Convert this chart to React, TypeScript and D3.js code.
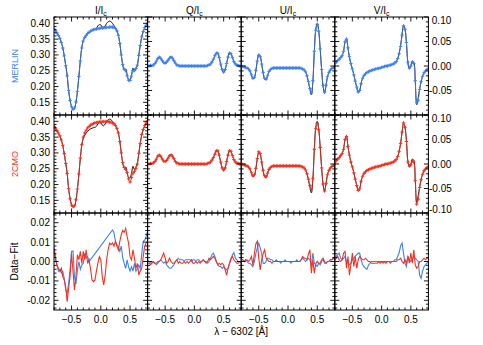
import React from 'react';
import * as d3 from 'd3';

// ---------------- data ----------------
const LAMBDA = [
  -0.800,-0.775,-0.750,-0.725,-0.700,-0.675,-0.650,-0.625,-0.600,-0.575,
  -0.550,-0.525,-0.500,-0.475,-0.450,-0.425,-0.400,-0.375,-0.350,-0.325,
  -0.300,-0.275,-0.250,-0.225,-0.200,-0.175,-0.150,-0.125,-0.100,-0.075,
  -0.050,-0.025,0.000,0.025,0.050,0.075,0.100,0.125,0.150,0.175,
  0.200,0.225,0.250,0.275,0.300,0.325,0.350,0.375,0.400,0.425,
  0.450,0.475,0.500,0.525,0.550,0.575,0.600,0.625,0.650,0.675,
  0.700,0.725,0.750,0.775,0.800];

const I_OBS = [
  0.381,0.376,0.369,0.362,0.353,0.340,0.323,0.297,0.268,0.236,
  0.186,0.156,0.137,0.129,0.131,0.150,0.184,0.231,0.282,0.324,
  0.345,0.356,0.363,0.368,0.373,0.376,0.378,0.380,0.381,0.384,
  0.392,0.396,0.395,0.388,0.386,0.392,0.400,0.405,0.407,0.405,
  0.400,0.393,0.386,0.377,0.363,0.337,0.300,0.268,0.252,0.256,
  0.238,0.222,0.221,0.236,0.258,0.247,0.256,0.268,0.300,0.331,
  0.358,0.374,0.385,0.394,0.402];
const I_MERLIN = [
  0.382,0.377,0.370,0.362,0.353,0.339,0.322,0.297,0.266,0.234,
  0.188,0.156,0.136,0.128,0.132,0.151,0.185,0.232,0.281,0.322,
  0.344,0.355,0.362,0.368,0.372,0.375,0.378,0.380,0.381,0.382,
  0.383,0.384,0.385,0.385,0.386,0.386,0.387,0.387,0.388,0.388,
  0.388,0.387,0.384,0.376,0.362,0.336,0.300,0.270,0.255,0.250,
  0.234,0.220,0.219,0.233,0.250,0.251,0.257,0.268,0.298,0.330,
  0.357,0.374,0.386,0.394,0.401];
const I_2CMO = [
  0.384,0.378,0.371,0.363,0.354,0.341,0.324,0.298,0.267,0.235,
  0.187,0.155,0.135,0.130,0.133,0.152,0.186,0.233,0.284,0.326,
  0.350,0.363,0.372,0.379,0.384,0.388,0.391,0.393,0.395,0.396,
  0.397,0.398,0.398,0.399,0.399,0.399,0.399,0.399,0.398,0.397,
  0.395,0.392,0.387,0.378,0.363,0.336,0.300,0.270,0.254,0.248,
  0.238,0.218,0.208,0.222,0.236,0.242,0.250,0.265,0.299,0.330,
  0.358,0.374,0.386,0.395,0.402];

const Q_OBS = [
  0.000,0.000,0.001,0.001,0.002,0.005,0.010,0.016,0.019,0.016,
  0.010,0.006,0.005,0.007,0.012,0.017,0.019,0.017,0.011,0.005,
  0.002,0.001,0.000,0.000,0.000,0.000,0.000,0.000,0.000,0.000,
  0.000,0.000,0.000,0.000,0.000,0.000,0.000,0.000,0.000,0.000,
  0.000,0.001,0.002,0.004,0.008,0.013,0.021,0.027,0.027,0.017,
  0.003,-0.009,-0.014,-0.008,0.005,0.019,0.028,0.026,0.017,0.009,
  0.004,0.002,0.001,0.000,0.000];
const Q_MERLIN = [
  0.000,0.000,0.001,0.001,0.002,0.005,0.010,0.015,0.018,0.016,
  0.011,0.007,0.006,0.008,0.012,0.016,0.018,0.016,0.011,0.006,
  0.002,0.001,0.000,0.000,0.000,0.000,0.000,0.000,0.000,0.000,
  0.000,0.000,0.000,0.000,0.000,0.000,0.000,0.000,0.000,0.000,
  0.000,0.001,0.002,0.004,0.008,0.014,0.021,0.026,0.026,0.017,
  0.004,-0.007,-0.012,-0.007,0.005,0.018,0.026,0.025,0.017,0.009,
  0.004,0.002,0.001,0.000,0.000];
const Q_2CMO = [
  0.000,0.000,0.001,0.001,0.002,0.005,0.010,0.016,0.018,0.016,
  0.010,0.006,0.005,0.007,0.012,0.017,0.018,0.016,0.011,0.005,
  0.002,0.001,0.000,0.000,0.000,0.000,0.000,0.000,0.000,0.000,
  0.000,0.000,0.000,0.000,0.000,0.000,0.000,0.000,0.000,0.000,
  0.000,0.001,0.002,0.004,0.008,0.013,0.020,0.027,0.027,0.018,
  0.004,-0.008,-0.012,-0.008,0.005,0.018,0.027,0.026,0.017,0.009,
  0.004,0.002,0.001,0.000,0.000];

const U_OBS = [
  0.000,-0.001,-0.002,-0.003,-0.004,-0.006,-0.010,-0.018,-0.026,-0.024,
  -0.010,0.010,0.024,0.020,0.004,-0.014,-0.026,-0.028,-0.020,-0.011,
  -0.007,-0.005,-0.004,-0.004,-0.004,-0.004,-0.004,-0.004,-0.004,-0.004,
  -0.004,-0.004,-0.004,-0.004,-0.004,-0.004,-0.004,-0.004,-0.004,-0.004,
  -0.004,-0.005,-0.006,-0.008,-0.012,-0.020,-0.033,-0.048,-0.059,-0.032,
  0.030,0.075,0.087,0.072,0.035,-0.008,-0.042,-0.056,-0.040,-0.022,
  -0.013,-0.008,-0.005,-0.003,-0.001];
const U_MERLIN = [
  0.000,-0.001,-0.002,-0.003,-0.004,-0.006,-0.010,-0.018,-0.025,-0.023,
  -0.009,0.010,0.022,0.019,0.004,-0.013,-0.025,-0.027,-0.020,-0.011,
  -0.007,-0.005,-0.004,-0.004,-0.004,-0.004,-0.004,-0.004,-0.004,-0.004,
  -0.004,-0.004,-0.004,-0.004,-0.004,-0.004,-0.004,-0.004,-0.004,-0.004,
  -0.004,-0.005,-0.006,-0.008,-0.012,-0.020,-0.032,-0.046,-0.055,-0.030,
  0.030,0.073,0.085,0.071,0.035,-0.007,-0.040,-0.053,-0.039,-0.022,
  -0.013,-0.008,-0.005,-0.003,-0.001];
const U_2CMO = [
  0.000,-0.001,-0.002,-0.003,-0.004,-0.006,-0.010,-0.018,-0.024,-0.022,
  -0.009,0.011,0.025,0.021,0.004,-0.013,-0.024,-0.026,-0.019,-0.011,
  -0.007,-0.005,-0.004,-0.004,-0.004,-0.004,-0.004,-0.004,-0.004,-0.004,
  -0.004,-0.004,-0.004,-0.004,-0.004,-0.004,-0.004,-0.004,-0.004,-0.004,
  -0.004,-0.005,-0.006,-0.008,-0.012,-0.020,-0.031,-0.044,-0.052,-0.029,
  0.030,0.072,0.083,0.070,0.034,-0.008,-0.041,-0.055,-0.040,-0.022,
  -0.013,-0.008,-0.005,-0.003,-0.001];

const V_OBS = [
  0.005,0.008,0.011,0.014,0.017,0.021,0.030,0.050,0.056,0.036,
  0.018,0.004,-0.006,-0.018,-0.031,-0.044,-0.054,-0.050,-0.035,-0.025,
  -0.019,-0.016,-0.013,-0.012,-0.010,-0.009,-0.008,-0.007,-0.006,-0.005,
  -0.005,-0.004,-0.003,-0.002,-0.001,0.000,0.000,0.001,0.002,0.003,
  0.004,0.006,0.009,0.015,0.026,0.042,0.065,0.083,0.075,0.047,
  0.005,-0.006,0.000,0.010,0.008,-0.030,-0.079,-0.065,-0.047,-0.032,
  -0.021,-0.014,-0.010,-0.007,-0.005];
const V_MERLIN = [
  0.005,0.008,0.011,0.014,0.017,0.021,0.030,0.049,0.055,0.037,
  0.019,0.005,-0.006,-0.018,-0.031,-0.043,-0.053,-0.050,-0.036,-0.025,
  -0.019,-0.016,-0.013,-0.012,-0.010,-0.009,-0.008,-0.007,-0.006,-0.005,
  -0.005,-0.004,-0.003,-0.002,-0.001,0.000,0.000,0.001,0.002,0.003,
  0.004,0.006,0.009,0.015,0.025,0.040,0.063,0.082,0.075,0.048,
  0.008,-0.004,0.000,0.008,0.005,-0.030,-0.075,-0.070,-0.048,-0.032,
  -0.021,-0.014,-0.010,-0.007,-0.005];
const V_2CMO = [
  0.004,0.007,0.010,0.013,0.017,0.021,0.030,0.050,0.056,0.036,
  0.018,0.004,-0.006,-0.018,-0.031,-0.044,-0.054,-0.051,-0.035,-0.025,
  -0.019,-0.016,-0.013,-0.012,-0.010,-0.009,-0.008,-0.007,-0.006,-0.005,
  -0.005,-0.004,-0.003,-0.002,-0.001,0.000,0.000,0.001,0.002,0.003,
  0.004,0.006,0.009,0.015,0.026,0.042,0.065,0.084,0.075,0.046,
  0.004,-0.004,-0.002,0.006,0.004,-0.034,-0.082,-0.072,-0.048,-0.032,
  -0.021,-0.014,-0.010,-0.007,-0.005];

// Data - Fit residuals (null = not fitted)
const RES_I_MERLIN = [
  0.0077,0.0025,-0.0018,-0.0050,-0.0040,-0.0060,-0.0050,-0.0087,-0.0147,-0.0164,
  -0.0112,-0.0040,0.0052,0.0054,-0.0078,-0.0116,-0.0044,0.0000,-0.0040,-0.0018,
  -0.0010,0.0041,0.0018,0.0025,0.0000,0.0010,null,null,null,null,
  null,null,null,null,null,null,null,null,null,null,
  0.0163,0.0150,0.0104,0.0087,0.0076,0.0052,0.0079,0.0018,-0.0010,-0.0035,
  0.0009,-0.0027,-0.0050,-0.0027,-0.0050,-0.0010,-0.0050,-0.0035,-0.0018,-0.0035,
  0.0041,0.0104,0.0110,0.0128,0.0155];
const RES_I_2CMO = [
  0.0060,0.0009,-0.0018,-0.0035,-0.0050,-0.0035,-0.0078,-0.0095,-0.0130,-0.0207,
  -0.0138,-0.0078,0.0041,-0.0050,-0.0147,-0.0078,0.0035,0.0009,0.0052,-0.0010,
  0.0052,0.0009,0.0060,-0.0010,0.0009,-0.0040,-0.0095,-0.0104,-0.0095,-0.0050,
  -0.0010,0.0025,0.0009,-0.0078,-0.0121,-0.0069,0.0009,0.0060,0.0095,0.0087,
  0.0095,0.0079,0.0104,0.0079,0.0060,0.0104,0.0139,0.0160,0.0150,0.0170,
  0.0128,0.0095,0.0025,0.0009,0.0060,0.0018,-0.0035,-0.0010,-0.0069,-0.0050,
  -0.0035,0.0025,0.0079,0.0095,0.0104];
const RES_Q_MERLIN = [
  0.0009,0.0000,-0.0009,0.0000,-0.0005,-0.0009,-0.0017,-0.0009,0.0000,0.0009,
  0.0000,-0.0009,0.0000,-0.0017,-0.0026,-0.0035,-0.0035,-0.0026,-0.0017,0.0000,
  0.0009,0.0017,0.0009,0.0009,0.0009,0.0000,0.0009,0.0009,0.0009,0.0009,
  0.0000,0.0009,0.0009,0.0000,0.0009,0.0009,0.0000,0.0000,0.0009,0.0000,
  0.0000,-0.0009,0.0000,0.0017,0.0035,0.0043,0.0026,0.0000,-0.0017,-0.0026,
  -0.0026,-0.0035,-0.0026,-0.0035,-0.0043,-0.0035,-0.0010,0.0009,0.0035,0.0046,
  0.0017,0.0009,0.0000,0.0000,-0.0009];
const RES_Q_2CMO = [
  -0.0009,-0.0009,-0.0017,-0.0009,0.0000,-0.0009,-0.0009,0.0000,0.0000,0.0009,
  0.0026,0.0043,0.0017,-0.0009,0.0000,0.0017,0.0000,-0.0009,-0.0009,0.0000,
  0.0009,-0.0009,0.0000,-0.0009,-0.0009,0.0000,-0.0009,0.0000,-0.0009,0.0000,
  0.0009,-0.0009,-0.0009,0.0000,-0.0009,0.0000,-0.0009,0.0000,0.0009,0.0000,
  -0.0009,0.0000,0.0017,0.0009,0.0017,0.0026,0.0017,0.0000,-0.0017,-0.0009,
  -0.0017,-0.0009,-0.0017,-0.0043,-0.0070,-0.0035,-0.0009,0.0017,0.0026,0.0009,
  0.0000,-0.0009,-0.0009,0.0000,0.0000];
const RES_U_MERLIN = [
  0.0009,0.0009,0.0000,0.0009,0.0000,-0.0009,-0.0009,-0.0017,-0.0026,0.0000,
  0.0040,0.0070,0.0095,0.0070,0.0040,-0.0010,-0.0010,0.0000,0.0017,0.0017,
  0.0009,0.0009,0.0000,0.0000,0.0009,0.0000,0.0000,-0.0009,0.0000,0.0000,
  0.0009,0.0000,0.0000,0.0000,-0.0009,0.0000,0.0000,0.0000,0.0009,0.0000,
  0.0000,0.0009,0.0017,0.0009,0.0000,0.0009,0.0017,0.0009,-0.0026,0.0043,
  -0.0009,-0.0017,-0.0026,-0.0009,-0.0017,0.0000,0.0009,-0.0009,-0.0009,0.0000,
  0.0000,0.0009,0.0009,0.0017,0.0026];
const RES_U_2CMO = [
  0.0009,0.0009,0.0000,0.0009,0.0009,0.0000,0.0009,0.0026,-0.0017,0.0040,
  0.0090,0.0105,0.0020,-0.0043,0.0009,0.0040,0.0060,0.0017,0.0009,0.0000,
  0.0000,-0.0009,0.0000,0.0000,0.0000,0.0000,0.0000,0.0000,0.0000,0.0000,
  0.0000,0.0000,0.0000,0.0000,0.0000,0.0000,0.0000,0.0000,0.0000,0.0000,
  0.0000,0.0009,0.0026,0.0017,0.0017,0.0009,0.0040,0.0060,-0.0060,0.0009,
  -0.0060,-0.0010,0.0000,-0.0009,-0.0009,0.0009,0.0017,0.0000,-0.0009,0.0000,
  0.0000,0.0009,0.0009,0.0017,0.0009];
const RES_V_MERLIN = [
  0.0017,0.0026,0.0035,0.0043,0.0017,0.0009,0.0017,0.0026,0.0000,-0.0009,
  -0.0017,-0.0009,0.0009,0.0017,0.0026,0.0035,0.0043,0.0043,0.0009,-0.0017,
  -0.0026,-0.0035,-0.0040,-0.0020,-0.0009,0.0000,0.0000,0.0000,0.0000,0.0000,
  0.0000,0.0000,0.0000,0.0000,0.0000,0.0000,0.0000,0.0000,0.0000,0.0000,
  0.0000,0.0009,0.0009,0.0026,0.0045,0.0080,0.0095,0.0043,-0.0009,-0.0026,
  0.0026,0.0009,0.0000,0.0009,0.0026,0.0017,0.0009,0.0000,-0.0070,-0.0087,
  -0.0050,-0.0026,-0.0017,-0.0009,0.0000];
const RES_V_2CMO = [
  0.0009,0.0017,0.0026,0.0009,0.0000,0.0009,0.0043,0.0052,-0.0035,0.0026,
  -0.0070,-0.0017,0.0043,-0.0026,0.0026,-0.0035,0.0009,0.0026,0.0017,0.0009,
  0.0009,0.0017,0.0009,0.0000,0.0000,-0.0009,-0.0009,-0.0009,-0.0009,-0.0009,
  0.0000,-0.0009,0.0000,-0.0009,0.0000,-0.0009,0.0000,0.0000,-0.0009,0.0000,
  0.0000,0.0000,0.0000,0.0009,0.0009,0.0017,0.0000,-0.0009,0.0009,-0.0009,
  0.0026,-0.0009,0.0043,-0.0009,0.0060,-0.0017,-0.0035,-0.0026,0.0000,0.0000,
  0.0009,0.0017,0.0009,0.0017,0.0017];

const STOKES = ['I', 'Q', 'U', 'V'];
const ROW_NAMES = ['MERLIN', '2CMO', 'Data\u2212Fit'];
const X_TICKS = [-0.5, 0.0, 0.5];
const I_TICKS = [0.15, 0.20, 0.25, 0.30, 0.35, 0.40];
const QUV_TICKS_ROW1 = [0.10, 0.05, 0.00, -0.05];
const QUV_TICKS_ROW2 = [0.10, 0.05, 0.00, -0.05, -0.10];
const RES_TICKS = [0.02, 0.01, 0.00, -0.01, -0.02];

// ---------------- layout / style ----------------
const W = 483, H = 345;
const PX0 = 54, PW = 93.6;
const ROW_TOP = [17, 115, 213];
const ROW_H = [98, 98, 97];
const BLUE = '#3d82f4';
const RED = '#f6301e';
const FONT = 'Liberation Sans, Arial, Helvetica, sans-serif';

const OBS = [I_OBS, Q_OBS, U_OBS, V_OBS];
const FIT_M = [I_MERLIN, Q_MERLIN, U_MERLIN, V_MERLIN];
const FIT_C = [I_2CMO, Q_2CMO, U_2CMO, V_2CMO];
const RES_M = [RES_I_MERLIN, RES_Q_MERLIN, RES_U_MERLIN, RES_V_MERLIN];
const RES_C = [RES_I_2CMO, RES_Q_2CMO, RES_U_2CMO, RES_V_2CMO];

const fmtY = (v: number) => {
  const s = Math.abs(v).toFixed(2);
  return v < -1e-9 ? '-' + s : s;
};
const fmtX = (v: number) => {
  const s = Math.abs(v).toFixed(1);
  return v < -1e-9 ? '\u2212' + s : s;
};

function Panel({ row, col }: { row: number; col: number }) {
  const x0 = PX0 + col * PW;
  const x1 = x0 + PW;
  const y0 = ROW_TOP[row];
  const y1 = y0 + ROW_H[row];
  const x = d3.scaleLinear().domain([-0.8, 0.8]).range([x0, x1]);
  let ydom: [number, number];
  let major: number, minorStep: number;
  if (row === 2) { ydom = [-0.025, 0.025]; major = 0.01; minorStep = 0.002; }
  else if (col === 0) { ydom = [0.11, 0.42]; major = 0.05; minorStep = 0.01; }
  else { ydom = [-0.1, 0.1]; major = 0.05; minorStep = 0.01; }
  const y = d3.scaleLinear().domain(ydom).range([y1, y0]);

  const eps = 1e-9;
  const yMinor = d3.range(Math.ceil(ydom[0] / minorStep - eps), Math.floor(ydom[1] / minorStep + eps) + 1).map(k => k * minorStep);
  const yMajor = d3.range(Math.ceil(ydom[0] / major - eps), Math.floor(ydom[1] / major + eps) + 1).map(k => k * major);
  const xMinor = d3.range(-8, 9).map(k => k / 10);

  let tickPath = '';
  const MJ = 4.5, MN = 2.5;
  xMinor.forEach(v => {
    const isMaj = X_TICKS.some(t => Math.abs(t - v) < 1e-6);
    const L = isMaj ? MJ : MN;
    const px = x(v);
    tickPath += `M${px},${y1}v${-L}M${px},${y0}v${L}`;
  });
  yMinor.forEach(v => {
    const isMaj = yMajor.some(t => Math.abs(t - v) < 1e-6);
    const L = isMaj ? MJ : MN;
    const py = y(v);
    if (py < y0 - 0.1 || py > y1 + 0.1) return;
    tickPath += `M${x0},${py}h${L}M${x1},${py}h${-L}`;
  });

  const clipId = `clip-${row}-${col}`;
  const pts = (arr: (number | null)[]) =>
    LAMBDA.map((l, i) => [l, arr[i]] as [number, number | null]).filter(p => p[1] !== null) as [number, number][];

  const smooth = d3.line<[number, number]>().x(d => x(d[0])).y(d => y(d[1])).curve(d3.curveCatmullRom.alpha(0.5));
  const straight = d3.line<[number, number]>().x(d => x(d[0])).y(d => y(d[1]));

  const content: React.ReactNode[] = [];
  if (row < 2) {
    const fit = row === 0 ? FIT_M[col] : FIT_C[col];
    const color = row === 0 ? BLUE : RED;
    const fp = pts(fit);
    let markers = '';
    fp.forEach(p => {
      const px = x(p[0]), py = y(p[1]);
      markers += `M${px - 1.7},${py}h3.4M${px},${py - 1.7}v3.4`;
    });
    content.push(<path key="obs" d={smooth(pts(OBS[col])) || ''} fill="none" stroke="#000" strokeWidth={0.9} />);
    content.push(<path key="fit" d={smooth(fp) || ''} fill="none" stroke={color} strokeWidth={0.8} />);
    content.push(<path key="mk" d={markers} fill="none" stroke={color} strokeWidth={1} />);
  } else {
    content.push(<path key="rm" d={straight(pts(RES_M[col])) || ''} fill="none" stroke={BLUE} strokeWidth={1.1} />);
    content.push(<path key="rc" d={straight(pts(RES_C[col])) || ''} fill="none" stroke={RED} strokeWidth={1.1} />);
  }

  // labels
  const labels: React.ReactNode[] = [];
  const clampY = (py: number) => Math.min(Math.max(py, y0 + 3), y1 - 3.7);
  if (col === 0) {
    const ticks = row === 2 ? RES_TICKS : I_TICKS;
    ticks.forEach(v => {
      labels.push(
        <text key={`l${v}`} x={50} y={clampY(y(v))} dy="0.35em" textAnchor="end" fontSize={10} fontFamily={FONT}>
          {fmtY(v)}
        </text>
      );
    });
  }
  if (col === 3 && row < 2) {
    const ticks = row === 0 ? QUV_TICKS_ROW1 : QUV_TICKS_ROW2;
    ticks.forEach(v => {
      labels.push(
        <text key={`r${v}`} x={v < -1e-9 ? 429 : 431.8} y={clampY(y(v))} dy="0.35em" textAnchor="start" fontSize={10} fontFamily={FONT}>
          {fmtY(v)}
        </text>
      );
    });
  }
  if (row === 2) {
    X_TICKS.forEach(v => {
      labels.push(
        <text key={`b${v}`} x={x(v)} y={323} textAnchor="middle" fontSize={10} fontFamily={FONT}>
          {fmtX(v)}
        </text>
      );
    });
  }
  if (row === 0) {
    labels.push(
      <text key="title" x={(x0 + x1) / 2} y={14} textAnchor="middle" fontSize={10} fontFamily={FONT}>
        {STOKES[col]}/I<tspan fontSize={7} dy={2}>c</tspan>
      </text>
    );
  }

  return (
    <g>
      <defs>
        <clipPath id={clipId}>
          <rect x={x0} y={y0} width={PW} height={ROW_H[row]} />
        </clipPath>
      </defs>
      <g clipPath={`url(#${clipId})`}>{content}</g>
      <rect x={x0} y={y0} width={PW} height={ROW_H[row]} fill="none" stroke="#000" strokeWidth={1} />
      <path d={tickPath} stroke="#000" strokeWidth={0.9} fill="none" />
      {labels}
    </g>
  );
}

export default function App() {
  const rowColors = [BLUE, RED, '#000'];
  return (
    <svg width={W} height={H} viewBox={`0 0 ${W} ${H}`}
      style={{ position: 'absolute', left: 0, top: 0, background: '#fff' }}>
      <rect x={0} y={0} width={W} height={H} fill="#fff" />
      {[0, 1, 2].map(r => [0, 1, 2, 3].map(c => <Panel key={`${r}-${c}`} row={r} col={c} />))}
      {ROW_NAMES.map((n, r) => {
        const cy = ROW_TOP[r] + ROW_H[r] / 2;
        return (
          <text key={n} transform={`translate(17.5,${cy}) rotate(-90)`} textAnchor="middle"
            fontSize={r === 2 ? 10 : 9} fontFamily={FONT} fill={rowColors[r]}>
            {n}
          </text>
        );
      })}
      <text x={PX0 + 2 * PW} y={335} textAnchor="middle" fontSize={10} fontFamily={FONT}>
        {'\u03bb \u2212 6302 [\u00c5]'}
      </text>
    </svg>
  );
}
